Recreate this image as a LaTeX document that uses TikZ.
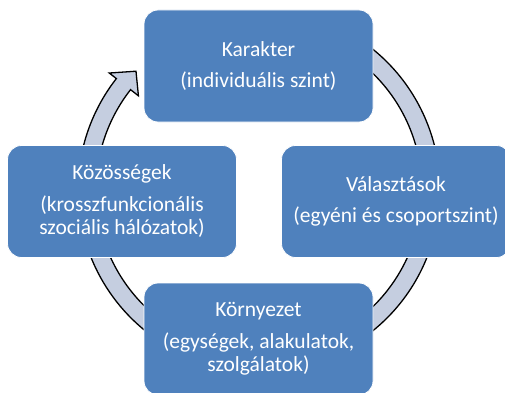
\documentclass[tikz,border=0pt]{standalone}
\usepackage{fontspec}
\setmainfont{Carlito}
\definecolor{boxblue}{RGB}{79,129,189}
\definecolor{ringfill}{RGB}{197,206,224}
\tikzset{
  cyclebox/.style={fill=boxblue, draw=white, line width=0.8pt, rounded corners=14pt,
    minimum width=229pt, minimum height=112pt, inner sep=0pt, text=white, align=center,
    font=\fontsize{21.5}{23}\selectfont},
  ringband/.style={fill=ringfill, draw=black, line width=1.3pt, line join=miter}
}
\begin{document}
\begin{tikzpicture}[x=1pt,y=1pt]
\useasboundingbox (0,0) rectangle (505,392);
\clip (0,0) rectangle (505,392);
\fill[white] (0,0) rectangle (505,392);
\begin{scope}[shift={(259,202)}]
  \coordinate (ringstart) at (70:181);
  \draw[ringband] (ringstart) arc[start angle=70, end angle=-218, radius=181]
    -- (-218:190) -- (-224:171) -- (-218:153) -- (-218:163)
    arc[start angle=-218, end angle=70, radius=163] -- cycle;
\end{scope}
\node[cyclebox] (karakter) at (258.5,326) {Karakter\\[8pt](individuális szint)};
\node[cyclebox] (valasztasok) at (396,190.5) {Választások\\[8pt](egyéni és csoportszint)};
\node[cyclebox] (kornyezet) at (258.5,53) {Környezet\\[9pt](egységek, alakulatok,\\szolgálatok)};
\node[cyclebox] (kozossegek) at (122,190.5) {Közösségek\\[9pt](krosszfunkcionális\\szociális hálózatok)};
\end{tikzpicture}
\end{document}
